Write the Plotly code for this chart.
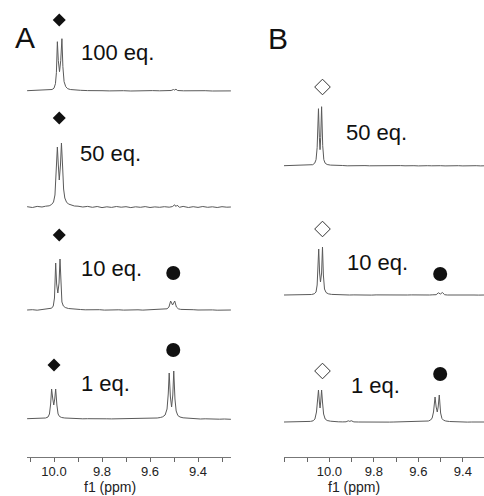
import plotly.graph_objects as go

# ---------------- data ----------------
# Panel A spectra: chemical shift (ppm) and intensity (arbitrary units)
A100_ppm = [10.112, 10.09, 10.07, 10.05, 10.03, 10.017, 10.008, 10.000, 9.994, 9.990, 9.986, 9.982, 9.977,
            9.972, 9.967, 9.963, 9.958, 9.951, 9.943, 9.932, 9.915, 9.89, 9.86, 9.83, 9.80, 9.77, 9.74, 9.71,
            9.68, 9.65, 9.62, 9.59, 9.56, 9.53, 9.512, 9.502, 9.497, 9.492, 9.485, 9.46, 9.43, 9.40, 9.37,
            9.34, 9.31, 9.28, 9.263]
A100_int = [0.0, 0.2, -0.1, 0.3, 0.4, 0.6, 1.2, 2.5, 7, 18, 49, 30, 19,
            30, 52, 24, 9, 4, 2, 1.2, 0.6, 0.4, 0.1, 0.3, 0.0, -0.2, 0.1, 0.0,
            -0.3, 0.0, -0.2, 0.1, -0.1, 0.0, 0.2, 1.2, 0.6, 1.5, 0.2, -0.1, 0.1, -0.2, 0.0,
            -0.3, -0.1, -0.3, -0.2]

A50_ppm = [10.112, 10.09, 10.07, 10.05, 10.035, 10.02, 10.01, 10.002, 9.996, 9.991, 9.986, 9.982, 9.978,
           9.973, 9.969, 9.964, 9.960, 9.955, 9.948, 9.94, 9.93, 9.915, 9.90, 9.88, 9.86, 9.84, 9.82, 9.80,
           9.78, 9.76, 9.74, 9.72, 9.70, 9.68, 9.66, 9.64, 9.62, 9.60, 9.58, 9.56, 9.54, 9.52, 9.507,
           9.497, 9.492, 9.487, 9.477, 9.462, 9.44, 9.42, 9.40, 9.38, 9.36, 9.34, 9.32, 9.30, 9.28, 9.263]
A50_int = [0.3, -0.5, 0.6, 0.0, 0.8, 1.2, 2.5, 5, 12, 35, 60, 42, 27,
           42, 64, 40, 18, 9, 5, 3, 2, 1, 0.8, 0.0, 0.6, -0.3, 0.5, -0.6,
           0.2, -0.4, 0.5, -0.2, 0.3, -0.6, 0.2, -0.3, 0.4, -0.5, 0.1, -0.3, 0.3, -0.2, 0.4,
           2.2, 0.5, 1.8, -0.3, 0.6, -0.5, 0.3, -0.4, 0.5, -0.3, 0.2, -0.5, 0.3, -0.2, 0.0]

A10_ppm = [10.112, 10.09, 10.07, 10.05, 10.03, 10.02, 10.01, 10.003, 9.998, 9.993, 9.989, 9.984, 9.979,
           9.975, 9.971, 9.967, 9.961, 9.953, 9.94, 9.925, 9.91, 9.89, 9.87, 9.85, 9.83, 9.81, 9.79, 9.77,
           9.75, 9.73, 9.71, 9.69, 9.67, 9.65, 9.63, 9.61, 9.59, 9.57, 9.555, 9.542, 9.529, 9.521, 9.514,
           9.506, 9.497, 9.490, 9.482, 9.472, 9.457, 9.44, 9.42, 9.40, 9.38, 9.36, 9.34, 9.32, 9.30, 9.28, 9.263]
A10_int = [0.0, 0.3, -0.2, 0.4, 0.5, 0.8, 1.8, 4, 12, 47, 26, 17, 27,
           51, 22, 8, 4, 2.5, 1.5, 1, 0.6, 0.5, 0.2, 0.4, 0.1, 0.3, -0.1, 0.2,
           0.0, 0.2, -0.1, 0.1, 0.0, 0.2, -0.1, 0.1, 0.0, 0.2, 0.3, 0.6, 1.2, 3, 9,
           5, 9, 3, 1.2, 0.6, 0.3, 0.1, 0.3, 0.0, 0.2, -0.1, 0.1, -0.2, 0.0, -0.1, 0.0]

A1_ppm = [10.112, 10.09, 10.07, 10.05, 10.035, 10.025, 10.019, 10.014, 10.010, 10.005, 10.001, 9.997, 9.993,
          9.988, 9.983, 9.977, 9.968, 9.955, 9.94, 9.92, 9.90, 9.88, 9.86, 9.84, 9.82, 9.80, 9.78, 9.76,
          9.74, 9.72, 9.70, 9.68, 9.66, 9.64, 9.62, 9.60, 9.58, 9.57, 9.557, 9.547, 9.537, 9.529, 9.524,
          9.520, 9.515, 9.510, 9.505, 9.501, 9.496, 9.491, 9.484, 9.475, 9.462, 9.447, 9.43, 9.41, 9.39,
          9.37, 9.35, 9.33, 9.31, 9.29, 9.263]
A1_int = [0.3, 0.5, 0.2, 0.6, 1.0, 2, 5, 15, 30, 20, 14, 20, 30,
          14, 5, 2.5, 1.5, 1.0, 0.7, 0.4, 0.5, 0.2, 0.3, 0.1, 0.3, 0.0, 0.2, 0.1,
          0.2, 0.0, 0.2, 0.1, 0.3, 0.2, 0.4, 0.5, 0.7, 1.0, 1.5, 2.2, 4, 10, 25,
          46, 22, 12, 24, 48, 20, 8, 3.5, 2, 1.2, 0.8, 0.5, 0.3, 0.0,
          0.2, -0.1, 0.1, -0.2, 0.0, -0.3]

# Panel B spectra
B50_ppm = [10.204, 10.18, 10.16, 10.14, 10.12, 10.10, 10.085, 10.075, 10.066, 10.060, 10.055, 10.049, 10.045,
           10.042, 10.039, 10.035, 10.030, 10.025, 10.019, 10.010, 9.995, 9.98, 9.96, 9.94, 9.92, 9.90, 9.88,
           9.86, 9.84, 9.82, 9.80, 9.78, 9.76, 9.74, 9.72, 9.70, 9.68, 9.66, 9.64, 9.62, 9.60, 9.58, 9.56,
           9.54, 9.52, 9.50, 9.48, 9.46, 9.44, 9.42, 9.40, 9.38, 9.36, 9.34, 9.32, 9.305]
B50_int = [0.0, 0.2, -0.1, 0.1, 0.0, 0.3, 0.5, 1.0, 2.5, 6, 18, 57, 28,
           16, 28, 59, 20, 6, 2.5, 1.2, 0.6, 0.3, 0.1, 0.2, -0.1, 0.1, 0.0,
           -0.2, 0.1, -0.1, 0.0, 0.2, -0.1, 0.1, -0.2, 0.0, 0.1, -0.1, 0.2, 0.0, -0.2, 0.1, 0.0,
           -0.1, 0.2, 0.0, -0.2, 0.1, -0.1, 0.0, -0.2, 0.1, -0.1, 0.0, -0.2, -0.1]

B10_ppm = [10.204, 10.18, 10.16, 10.14, 10.12, 10.10, 10.08, 10.068, 10.060, 10.055, 10.051, 10.048, 10.044,
           10.040, 10.035, 10.031, 10.027, 10.022, 10.015, 10.005, 9.99, 9.97, 9.95, 9.93, 9.91, 9.89, 9.87,
           9.85, 9.83, 9.81, 9.79, 9.77, 9.75, 9.73, 9.71, 9.69, 9.67, 9.65, 9.63, 9.61, 9.59, 9.57, 9.55,
           9.535, 9.52, 9.510, 9.501, 9.492, 9.482, 9.47, 9.45, 9.43, 9.41, 9.39, 9.37, 9.35, 9.33, 9.305]
B10_int = [0.0, 0.1, -0.1, 0.2, 0.0, 0.2, 0.5, 1.2, 3, 10, 25, 46, 22,
           13, 22, 48, 20, 6, 2.5, 1.2, 0.6, 0.3, 0.1, 0.2, 0.0, 0.1, -0.1,
           0.1, 0.0, -0.1, 0.1, 0.0, -0.1, 0.1, 0.0, 0.1, -0.1, 0.0, 0.1, -0.1, 0.0, 0.1, 0.0,
           0.2, 0.3, 2.2, 1.0, 2.5, 0.3, 0.0, 0.1, -0.1, 0.0, 0.1, -0.1, 0.0, -0.1, 0.0]

B1_ppm = [10.204, 10.18, 10.16, 10.14, 10.12, 10.10, 10.085, 10.073, 10.065, 10.058, 10.053, 10.049, 10.045,
          10.042, 10.039, 10.035, 10.031, 10.026, 10.019, 10.010, 9.995, 9.98, 9.96, 9.94, 9.925, 9.915,
          9.908, 9.902, 9.89, 9.87, 9.85, 9.83, 9.81, 9.79, 9.77, 9.75, 9.73, 9.71, 9.69, 9.67, 9.65,
          9.63, 9.61, 9.59, 9.57, 9.555, 9.545, 9.538, 9.532, 9.525, 9.520, 9.515, 9.511, 9.506, 9.500,
          9.494, 9.487, 9.477, 9.46, 9.44, 9.42, 9.40, 9.38, 9.36, 9.34, 9.32, 9.305]
B1_int = [0.0, 0.1, -0.1, 0.1, 0.0, 0.3, 0.6, 1.2, 3, 10, 22, 32, 20,
          14, 20, 32, 20, 8, 3, 1.5, 0.8, 0.4, 0.2, 0.1, 0.2, 1.2,
          0.6, 1.3, 0.1, 0.0, -0.1, 0.1, 0.0, -0.1, 0.1, 0.0, -0.1, 0.0, 0.1, 0.0, -0.1,
          0.1, 0.0, 0.2, 0.5, 1.0, 2, 4, 10, 25, 15, 10, 15, 27, 9,
          3.5, 1.8, 1.0, 0.5, 0.2, 0.0, 0.1, -0.1, 0.0, 0.1, -0.1, 0.0]

A_labels = ["100 eq.", "50 eq.", "10 eq.", "1 eq."]
B_labels = ["50 eq.", "10 eq.", "1 eq."]

# peak assignment markers (ppm)
A_diamond_ppm = [9.978, 9.978, 9.978, 10.000]
A_circle_ppm = [9.503, 9.503]
B_diamond_ppm = [10.031, 10.031, 10.031]
B_circle_ppm = [9.502, 9.502]

tick_vals = [10.2, 10.1, 10.0, 9.9, 9.8, 9.7, 9.6, 9.5, 9.4, 9.3]
tick_text = ["", "", "10.0", "", "9.8", "", "9.6", "", "9.4", ""]

# ---------------- layout constants (pixels) ----------------
W, H = 484, 496
A_base = [90.7, 207, 310, 419]
B_base = [165.7, 295, 422]
A_diamond_y = [20, 118, 235, 365]
A_circle_y = [273, 350]
B_diamond_y = [87, 229, 371]
B_circle_y = [274, 374]
A_label_pos = [(79, 52), (78, 153), (79, 268), (79, 383)]
B_label_pos = [(344, 132), (345, 262), (349, 385)]
LINE = "#5a5a5a"
INK = "#111111"
FONT = "Liberation Sans, Arial, sans-serif"

fig = go.Figure()

A_specs = [(A100_ppm, A100_int), (A50_ppm, A50_int), (A10_ppm, A10_int), (A1_ppm, A1_int)]
for (xs, ys), base in zip(A_specs, A_base):
    fig.add_trace(go.Scatter(x=xs, y=[base - v for v in ys], mode="lines",
                             line=dict(color=LINE, width=1), xaxis="x", yaxis="y",
                             hoverinfo="skip", showlegend=False))
B_specs = [(B50_ppm, B50_int), (B10_ppm, B10_int), (B1_ppm, B1_int)]
for (xs, ys), base in zip(B_specs, B_base):
    fig.add_trace(go.Scatter(x=xs, y=[base - v for v in ys], mode="lines",
                             line=dict(color=LINE, width=1), xaxis="x2", yaxis="y",
                             hoverinfo="skip", showlegend=False))

# markers
fig.add_trace(go.Scatter(x=A_diamond_ppm, y=A_diamond_y, mode="markers", xaxis="x", yaxis="y",
                         marker=dict(symbol="diamond", size=10, color=INK), showlegend=False))
fig.add_trace(go.Scatter(x=A_circle_ppm, y=A_circle_y, mode="markers", xaxis="x", yaxis="y",
                         marker=dict(symbol="circle", size=14, color=INK), showlegend=False))
fig.add_trace(go.Scatter(x=B_diamond_ppm, y=B_diamond_y, mode="markers", xaxis="x2", yaxis="y",
                         marker=dict(symbol="diamond-open", size=12, color="#333333",
                                     line=dict(width=1, color="#333333")), showlegend=False))
fig.add_trace(go.Scatter(x=B_circle_ppm, y=B_circle_y, mode="markers", xaxis="x2", yaxis="y",
                         marker=dict(symbol="circle", size=14, color=INK), showlegend=False))

annotations = []
for txt, (px, py) in zip(A_labels, A_label_pos):
    annotations.append(dict(text=txt, x=px / W, y=py, xref="paper", yref="y", xanchor="left",
                            yanchor="middle", showarrow=False, font=dict(size=22, color=INK, family=FONT)))
for txt, (px, py) in zip(B_labels, B_label_pos):
    annotations.append(dict(text=txt, x=px / W, y=py, xref="paper", yref="y", xanchor="left",
                            yanchor="middle", showarrow=False, font=dict(size=22, color=INK, family=FONT)))
annotations.append(dict(text="A", x=25 / W, y=37, xref="paper", yref="y", xanchor="center",
                        yanchor="middle", showarrow=False, font=dict(size=30, color=INK, family=FONT)))
annotations.append(dict(text="B", x=278 / W, y=38, xref="paper", yref="y", xanchor="center",
                        yanchor="middle", showarrow=False, font=dict(size=30, color=INK, family=FONT)))
annotations.append(dict(text="f1 (ppm)", x=110 / W, y=487, xref="paper", yref="y", xanchor="center",
                        yanchor="middle", showarrow=False, font=dict(size=14, color="#222222", family=FONT)))
annotations.append(dict(text="f1 (ppm)", x=354 / W, y=487, xref="paper", yref="y", xanchor="center",
                        yanchor="middle", showarrow=False, font=dict(size=14, color="#222222", family=FONT)))

axis_y = (H - 457) / H
xcommon = dict(tickmode="array", tickvals=tick_vals, ticktext=tick_text, ticks="outside", ticklen=4,
               tickcolor="#666666", showline=True, linecolor="#777777", linewidth=1, showgrid=False,
               zeroline=False, tickfont=dict(size=13, color="#222222", family=FONT),
               ticklabelstandoff=-2,
               anchor="free", position=axis_y, fixedrange=True)

fig.update_layout(
    width=W, height=H, margin=dict(l=0, r=0, t=0, b=0),
    paper_bgcolor="white", plot_bgcolor="white",
    xaxis=dict(domain=[27 / W, 231 / W], range=[10.1125, 9.2625], **xcommon),
    xaxis2=dict(domain=[284 / W, 1.0], range=[10.204, 9.305], **xcommon),
    yaxis=dict(domain=[0, 1], range=[H, 0], visible=False, fixedrange=True),
    annotations=annotations,
)

fig.write_html("out.html")
